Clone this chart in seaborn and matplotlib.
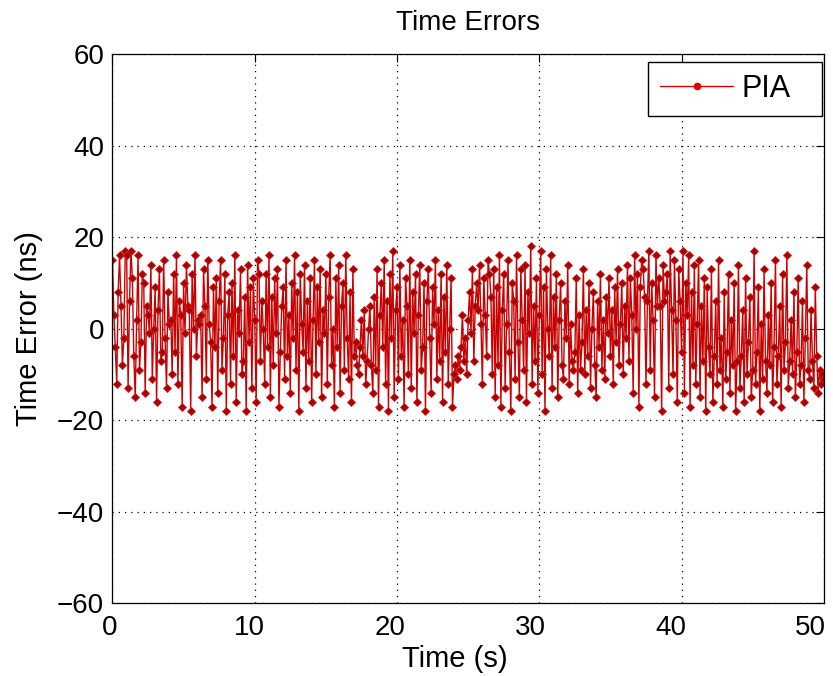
import numpy as np
import pandas as pd
import matplotlib
matplotlib.use("Agg")
import matplotlib.pyplot as plt
import matplotlib.transforms as mtransforms
from matplotlib.lines import Line2D
import seaborn as sns

# Time error values (ns), one row per second, sampled every 0.1 s
errors = [
    15, 3, -4, -12, 8, 16, 5, -8, -2, 17,
    16, -13, 6, 17, 11, -6, -15, 2, 16, -9,
    -3, 12, 10, -14, 5, 3, -1, 14, -11, 0,
    9, -16, 4, 13, -7, -5, 15, -2, -13, 8,
    1, 2, -10, 12, -5, 16, -12, 6, 3, -17,
    10, -1, 14, 5, 4, -18, 12, 0, 16, -6,
    2, 1, 3, -15, 13, 5, -11, 15, 1, -3,
    -17, 9, -4, 11, -14, 6, 15, -9, -2, 12,
    -18, 3, 8, -12, 10, -6, 16, -16, 4, -1,
    13, -10, -7, 7, -18, 14, -3, 9, -13, 11,
    2, -16, 15, 12, -7, 6, 0, -12, 12, -4,
    16, -15, 7, -8, 11, -1, 13, -17, -5, 5,
    9, -11, 15, -6, 3, -14, 10, -2, 16, -9,
    8, -18, 12, 1, -5, 14, -13, 6, -7, 11,
    -16, 2, 15, -10, 9, -3, 13, -15, 4, -1,
    12, -12, 7, 16, -8, 0, -17, 11, -4, 14,
    -14, 5, 10, -9, 16, -2, -11, 8, -16, 13,
    -6, -3, -8, -10, -4, 2, -6, 4, -12, -7,
    0, 5, -8, -14, 7, -9, 13, -17, 3, 10,
    -4, 15, -12, 6, -18, 12, -2, 17, -15, 4,
    9, -11, 14, -6, 2, -17, 11, 5, -10, 15,
    -13, 8, -1, 12, -16, 3, 14, -9, -4, 10,
    -18, 6, 13, -2, -14, 9, 1, 15, -11, 4,
    -7, 12, -16, 7, -5, 14, -12, 0, 11, -17,
    -10, -8, -11, -6, -9, -4, 3, -7, -2, -10,
    2, 8, -1, 13, -7, 5, 10, 4, 14, 1,
    -12, 11, 3, -6, 15, 12, 7, -10, 13, -15,
    9, -8, 16, -17, 4, 12, -13, 1, 15, -5,
    -18, 10, 6, -11, 16, -3, -15, 13, 2, -9,
    14, -16, 8, -1, 18, -12, 5, -7, 11, -14,
    3, 17, -10, 9, -18, 13, 0, -6, 16, -13,
    7, -4, 12, -15, 2, 10, -8, -11, 6, -2,
    14, -12, 1, -7, -9, -5, 11, -14, 3, -9,
    -3, 13, -10, 4, -6, 10, -13, 0, 8, -8,
    -15, 6, -4, 12, -9, 2, -11, 7, -1, 11,
    -6, 4, -12, 9, -3, 13, -8, 1, 10, -10,
    5, -2, 14, -7, 11, 3, -14, 16, 0, 12,
    -17, 9, 15, 13, 7, -12, 6, 17, -9, 10,
    2, -15, 16, 5, 11, 5, -18, 14, 6, 8,
    12, -13, 17, 4, -10, 15, 2, -16, 13, 6,
    -5, 17, -14, 10, 3, 16, -17, 8, -8, 14,
    -12, 1, 15, -15, 5, -7, 11, -18, 9, -4,
    -10, 13, -16, -6, 6, -12, 15, -9, -2, -17,
    8, -11, -5, 12, -14, 2, -8, 10, -18, -7,
    14, -13, -6, 4, -16, 11, -10, -3, 7, -15,
    -9, 17, -12, -5, 9, -18, 1, -11, 13, -7,
    -14, 3, -8, 10, -16, -4, 15, -12, -6, 5,
    -17, 12, -9, -3, 16, -13, -7, 2, -10, 8,
    -15, -5, 11, -12, -8, 6, -16, -2, 14, -9,
    -11, 4, -7, -13, 9, -6, -14, -9, -12, -10,
    -11,
]
times = [i / 10 for i in range(len(errors))]
series_name = "PIA"
x_ticks = [0, 10, 20, 30, 40, 50]
y_ticks = [-60, -40, -20, 0, 20, 40, 60]

sns.set_style("white")
plt.rcParams['font.family'] = ['Liberation Sans', 'DejaVu Sans']
plt.rcParams['text.color'] = 'black'
plt.rcParams['axes.labelcolor'] = 'black'

df = pd.DataFrame({"Time": times, "Error": errors})

fig = plt.figure(figsize=(8.33, 6.76), dpi=100)
ax = fig.add_axes([0.135, 0.1073, 0.854, 0.8129])

sns.lineplot(data=df, x="Time", y="Error", ax=ax, color="#c80000", linewidth=1.0,
             marker="D", markersize=4.2, markeredgewidth=0.6,
             markerfacecolor="#a80000", markeredgecolor="#d02020",
             estimator=None, legend=False)

ax.set_xlim(0, 50)
ax.set_ylim(-60, 60)
ax.set_xticks(x_ticks)
ax.set_yticks(y_ticks)
ax.set_xticklabels([str(v) for v in x_ticks])
ax.set_yticklabels([str(v).replace("-", "\u2212") for v in y_ticks])
ax.grid(True, color="black", linestyle=(0, (1, 4)), linewidth=0.9)
ax.tick_params(direction="in", length=6, labelsize=20, colors="black",
               labelcolor="black", top=True, right=True)
ax.tick_params(axis="x", pad=8)
ax.tick_params(axis="y", pad=6)
for s in ax.spines.values():
    s.set_color("black")
    s.set_linewidth(0.9)

# shift x tick labels slightly left, as in the reference rendering
for v, lab in zip(x_ticks, ax.get_xticklabels()):
    dx = -(3 + 0.2 * v) / 100.0
    lab.set_transform(lab.get_transform() +
                      mtransforms.ScaledTranslation(dx, 0, fig.dpi_scale_trans))

ax.set_xlabel("Time (s)", fontsize=21, labelpad=2, color="black")
ax.xaxis.set_label_coords(0.481, -0.075)
ax.set_ylabel("Time Error (ns)", fontsize=21, labelpad=10, color="black")
ax.set_title("Time Errors", fontsize=20, pad=17, color="black")

proxy = Line2D([], [], color="#d40000", linewidth=1.0, marker="o",
               markersize=4.5, markerfacecolor="#e00000",
               markeredgecolor="#e00000")
leg = ax.legend([proxy], [series_name], loc="upper left",
                bbox_to_anchor=(0.7526, 0.80, 0.2446, 0.1854), mode="expand",
                borderaxespad=0, fontsize=22, frameon=True,
                fancybox=False, edgecolor="black", framealpha=1,
                handlelength=2.4, borderpad=0.4, handletextpad=0.25,
                labelcolor="black")
leg.get_frame().set_linewidth(1.0)

fig.savefig("out.png", dpi=100)
